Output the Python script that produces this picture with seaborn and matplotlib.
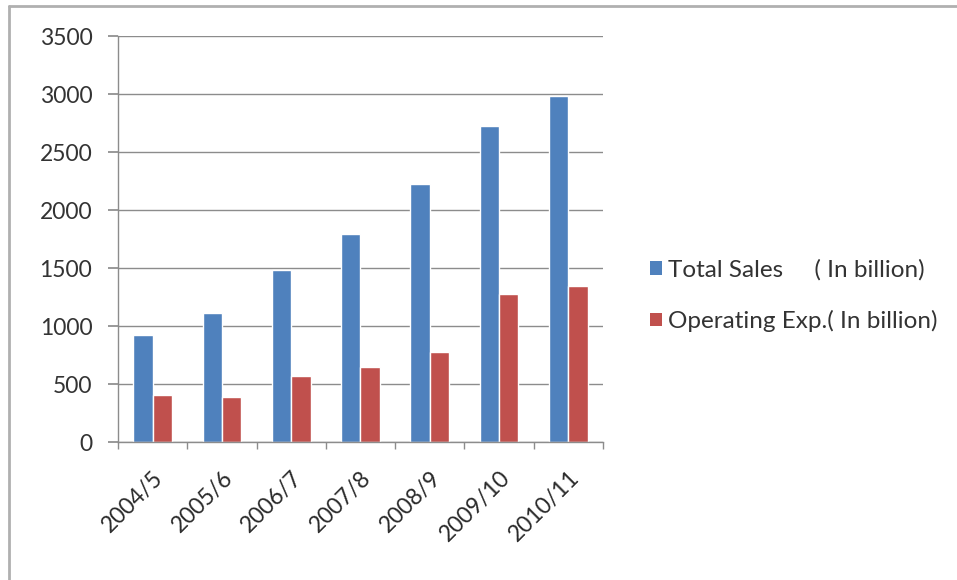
import matplotlib
matplotlib.use("Agg")
import matplotlib.pyplot as plt
from matplotlib.lines import Line2D
from matplotlib.patches import Patch
import seaborn as sns
import pandas as pd

years = ["2004/5", "2005/6", "2006/7", "2007/8", "2008/9", "2009/10", "2010/11"]
total_sales = [920, 1110, 1480, 1790, 2220, 2720, 2980]
operating_exp = [405, 390, 570, 650, 780, 1280, 1345]
series_names = ["Total Sales     ( In billion)", "Operating Exp.( In billion)"]
colors = ["#4F81BD", "#C0504D"]

df = pd.DataFrame({
    "year": years * 2,
    "value": total_sales + operating_exp,
    "series": [series_names[0]] * len(years) + [series_names[1]] * len(years),
})

sns.set_theme(style="white")
plt.rcParams["font.family"] = ["Lato", "DejaVu Sans"]

fig = plt.figure(figsize=(9.57, 5.8), dpi=100)
ax = fig.add_axes([0.1233, 0.2379, 0.6300 - 0.1233, 0.9379 - 0.2379])

sns.barplot(data=df, x="year", y="value", hue="series", palette=colors,
            width=0.56, gap=0, saturation=1, ax=ax, legend=False)

ax.set_xlim(-0.5, len(years) - 0.5)
ax.set_ylim(0, 3500)
ax.set_yticks(range(0, 3501, 500))
ax.set_xlabel("")
ax.set_ylabel("")

grid_c = "#8c8c8c"
ax.yaxis.grid(True, color=grid_c, linewidth=1)
ax.set_axisbelow(True)
for s in ["top", "right"]:
    ax.spines[s].set_visible(False)
for s in ["left", "bottom"]:
    ax.spines[s].set_color(grid_c)
    ax.spines[s].set_linewidth(1)

ax.tick_params(axis="y", which="major", left=True, length=7.5, color=grid_c,
               labelsize=16.5, labelcolor="#333333", pad=11)
ax.set_xticks(range(len(years)))
ax.set_xticklabels(years, rotation=45, ha="right", rotation_mode="anchor",
                   fontsize=16.5, color="#2a2a2a")
ax.tick_params(axis="x", which="major", bottom=False, pad=12)
ax.set_xticks([i - 0.5 for i in range(len(years) + 1)], minor=True)
ax.tick_params(axis="x", which="minor", bottom=True, length=5, color=grid_c)

handles = [Patch(facecolor=c, edgecolor="none") for c in colors]
fig.legend(handles, series_names, loc="center left",
           bbox_to_anchor=(0.656, 0.490), frameon=False, fontsize=17.5,
           handlelength=0.5, handleheight=0.5, handletextpad=0.25,
           labelspacing=1.2, labelcolor="#333333")

fig.add_artist(Line2D([0.009, 0.009], [0, 0.989], transform=fig.transFigure,
                      color="#b0b0b0", linewidth=2))
fig.add_artist(Line2D([0.009, 1.0], [0.989, 0.989], transform=fig.transFigure,
                      color="#b0b0b0", linewidth=2))

fig.savefig("out.png", dpi=100, facecolor="white")
